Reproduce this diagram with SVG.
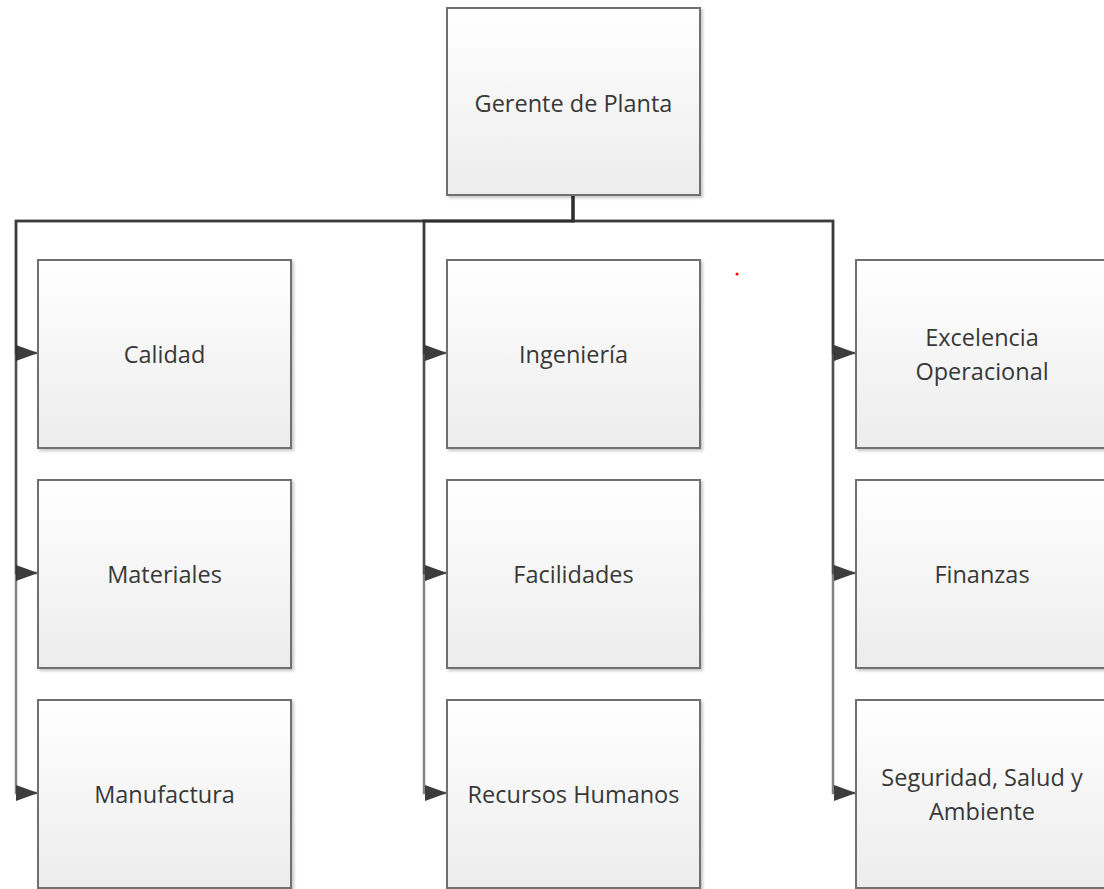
<svg xmlns="http://www.w3.org/2000/svg" width="1104" height="889" viewBox="0 0 1104 889">
  <defs>
    <linearGradient id="boxFill" x1="0" y1="0" x2="0" y2="1">
      <stop offset="0" stop-color="#ffffff"/>
      <stop offset="1" stop-color="#ececec"/>
    </linearGradient>
    <filter id="shadow" x="-5%" y="-5%" width="115%" height="115%">
      <feDropShadow dx="2" dy="2" stdDeviation="1.5" flood-color="#000" flood-opacity="0.22"/>
    </filter>
    <marker id="arrow" viewBox="0 0 22 16" refX="22" refY="8" markerWidth="22" markerHeight="16" markerUnits="userSpaceOnUse" orient="auto">
      <path d="M0,0 L22,8 L0,16 Z" fill="#3c3c3c"/>
    </marker>
  </defs>
  <style>
    .box { fill: url(#boxFill); stroke: #707070; stroke-width: 2; filter: url(#shadow); }
    .label { font-family: "Open Sans", "Liberation Sans", sans-serif; font-size: 23.5px; fill: #383838; text-anchor: middle; dominant-baseline: central; }
    .conn { fill: none; stroke: #2e2e2e; stroke-width: 2.5; stroke-opacity: 0.6; marker-end: url(#arrow); }
  </style>
  <rect width="1104" height="889" fill="#ffffff"/>

  <!-- connectors: one path per subordinate, all starting at the plant manager -->
  <g id="connectors">
    <path class="conn" d="M573,195 V221 H16 V353 H38"/>
    <path class="conn" d="M573,195 V221 H16 V573 H38"/>
    <path class="conn" d="M573,195 V221 H16 V793 H38"/>
    <path class="conn" d="M573,195 V221 H424 V353 H447"/>
    <path class="conn" d="M573,195 V221 H424 V573 H447"/>
    <path class="conn" d="M573,195 V221 H424 V793 H447"/>
    <path class="conn" d="M573,195 V221 H833 V353 H856"/>
    <path class="conn" d="M573,195 V221 H833 V573 H856"/>
    <path class="conn" d="M573,195 V221 H833 V793 H856"/>
  </g>

  <g id="gerente">
    <rect class="box" x="447" y="8" width="253" height="187"/>
    <text class="label" x="573.5" y="103">Gerente de Planta</text>
  </g>

  <g id="calidad">
    <rect class="box" x="38" y="260" width="253" height="188"/>
    <text class="label" x="164.5" y="354">Calidad</text>
  </g>
  <g id="materiales">
    <rect class="box" x="38" y="480" width="253" height="188"/>
    <text class="label" x="164.5" y="574">Materiales</text>
  </g>
  <g id="manufactura">
    <rect class="box" x="38" y="700" width="253" height="188"/>
    <text class="label" x="164.5" y="794">Manufactura</text>
  </g>

  <g id="ingenieria">
    <rect class="box" x="447" y="260" width="253" height="188"/>
    <text class="label" x="573.5" y="354">Ingeniería</text>
  </g>
  <g id="facilidades">
    <rect class="box" x="447" y="480" width="253" height="188"/>
    <text class="label" x="573.5" y="574">Facilidades</text>
  </g>
  <g id="recursos-humanos">
    <rect class="box" x="447" y="700" width="253" height="188"/>
    <text class="label" x="573.5" y="794">Recursos Humanos</text>
  </g>

  <g id="excelencia-operacional">
    <rect class="box" x="856" y="260" width="253" height="188"/>
    <text class="label" x="982" y="337">Excelencia</text>
    <text class="label" x="982" y="371">Operacional</text>
  </g>
  <g id="finanzas">
    <rect class="box" x="856" y="480" width="253" height="188"/>
    <text class="label" x="982" y="574">Finanzas</text>
  </g>
  <g id="seguridad-salud-ambiente">
    <rect class="box" x="856" y="700" width="253" height="188"/>
    <text class="label" x="982" y="777">Seguridad, Salud y</text>
    <text class="label" x="982" y="811">Ambiente</text>
  </g>

  <circle cx="737" cy="274" r="1.5" fill="#ff0000"/>
</svg>
